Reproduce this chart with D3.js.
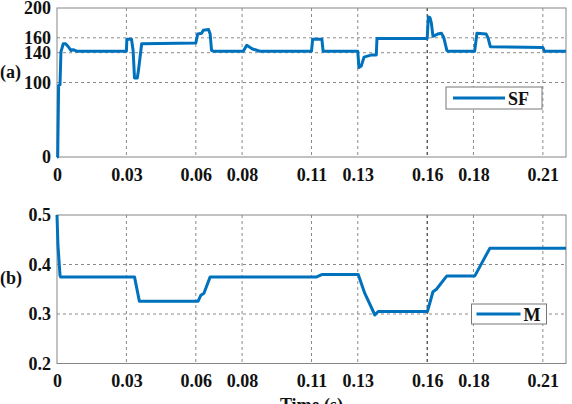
<!DOCTYPE html>
<html><head><meta charset="utf-8">
<script src="https://cdn.jsdelivr.net/npm/d3@7"></script>
<style>body{margin:0;background:#fff}svg{display:block}</style>
</head><body>
<svg id="c" width="572" height="404"></svg>
<script>
const xTicks=[0,0.03,0.06,0.08,0.11,0.13,0.16,0.18,0.21];
const xTickLabels=["0","0.03","0.06","0.08","0.11","0.13","0.16","0.18","0.21"];
const sfTicks=[0,100,140,160,200];
const mTicks=[0.2,0.3,0.4,0.5];
const sfTime=[0,0.0003,0.0007,0.0013,0.0017,0.0027,0.0037,0.0049,0.006,0.007,0.0085,0.0300,0.0302,0.0322,0.0329,0.0335,0.0347,0.0352,0.0366,0.0600,0.0608,0.0625,0.0632,0.0655,0.0662,0.0668,0.0675,0.0805,0.0820,0.0845,0.0877,0.1100,0.1105,0.1145,0.1150,0.1300,0.1305,0.1315,0.1327,0.1360,0.1380,0.1383,0.1600,0.1605,0.1612,0.1618,0.1625,0.1645,0.1662,0.1672,0.1685,0.1690,0.1805,0.1815,0.1855,0.1863,0.1873,0.2100,0.2107,0.2200];
const sfValue=[0,0,96,97,141,152,152,148,143,144,142,142,158,158,143,106,106,116,152,153,165,166,170,171,165,143,142,142,150,145,142,142,158,158,142,142,120,122,134,137,137,159,159,188,187,180,162,165,166,160,143,142,142,166,165,160,148,147,142,142];
const mTime=[0,0.0004,0.0013,0.0015,0.0335,0.0356,0.0610,0.0622,0.0635,0.0662,0.1122,0.1147,0.1302,0.1330,0.1374,0.1388,0.1601,0.1625,0.1640,0.1685,0.1806,0.1871,0.2200];
const mValue=[0.5,0.44,0.378,0.375,0.375,0.326,0.326,0.338,0.342,0.375,0.375,0.380,0.380,0.342,0.298,0.305,0.305,0.345,0.350,0.377,0.377,0.433,0.433];

const svg=d3.select("#c");
const FONT="'Liberation Serif','Times New Roman',serif";
const BLUE="#0072BD";
const x=d3.scaleLinear().domain([0,0.22]).range([57,566]);

function panel(yDomain,yRange,yTicks,yFmt,times,vals,legendName,lg,tag,tagY){
  const y=d3.scaleLinear().domain(yDomain).range(yRange);
  const g=svg.append("g");
  // grid
  g.selectAll(".vg").data(xTicks.filter(t=>t>0)).enter().append("line")
    .attr("x1",d=>x(d)).attr("x2",d=>x(d)).attr("y1",yRange[1]).attr("y2",yRange[0])
    .attr("stroke",d=>d===0.16?"#111":"#8a8a8a").attr("stroke-width",1).attr("stroke-dasharray","3,3");
  g.selectAll(".hg").data(yTicks.filter(t=>t>yDomain[0]&&t<yDomain[1])).enter().append("line")
    .attr("x1",x.range()[0]).attr("x2",x.range()[1]).attr("y1",d=>y(d)).attr("y2",d=>y(d))
    .attr("stroke","#8a8a8a").attr("stroke-width",1).attr("stroke-dasharray","3,3");
  // frame
  g.append("rect").attr("x",x.range()[0]).attr("y",yRange[1]).attr("width",x.range()[1]-x.range()[0])
    .attr("height",yRange[0]-yRange[1]).attr("fill","none").attr("stroke","#858585").attr("stroke-width",1);
  // axes
  const xa=g.append("g").attr("transform",`translate(0,${yRange[0]})`)
    .call(d3.axisBottom(x).tickValues(xTicks).tickFormat((d,i)=>xTickLabels[i]).tickSize(0).tickPadding(11));
  const ya=g.append("g").attr("transform",`translate(${x.range()[0]},0)`)
    .call(d3.axisLeft(y).tickValues(yTicks).tickFormat(yFmt).tickSize(0).tickPadding(6));
  [xa,ya].forEach(a=>{a.select(".domain").remove();a.selectAll("text").attr("font-family",FONT).attr("font-weight","bold").attr("font-size",18).attr("fill","#111");});
  // line
  const pts=times.map((t,i)=>[t,vals[i]]);
  g.append("path").datum(pts).attr("fill","none").attr("stroke",BLUE).attr("stroke-width",3).attr("stroke-linejoin","round")
    .attr("d",d3.line().x(d=>x(d[0])).y(d=>y(d[1])));
  // legend
  g.append("rect").attr("x",lg.x).attr("y",lg.y).attr("width",lg.w).attr("height",lg.h).attr("fill","#fff").attr("stroke","#777").attr("stroke-width",1);
  g.append("line").attr("x1",lg.x+lg.l1).attr("x2",lg.x+lg.l2).attr("y1",lg.y+lg.h/2).attr("y2",lg.y+lg.h/2).attr("stroke",BLUE).attr("stroke-width",3);
  g.append("text").attr("x",lg.x+lg.l2+3).attr("y",lg.y+lg.h/2+6.5).text(legendName)
    .attr("font-family",FONT).attr("font-weight","bold").attr("font-size",18).attr("fill","#111");
  svg.append("text").attr("x",0).attr("y",tagY).text(tag).attr("font-family",FONT).attr("font-weight","bold").attr("font-size",18).attr("fill","#111");
}
panel([0,200],[157,8],sfTicks,d3.format("d"),sfTime,sfValue,"SF",{x:446,y:87,w:96,h:22,l1:7,l2:59},"(a)",78);
panel([0.2,0.5],[363.5,215],mTicks,d3.format(".1f"),mTime,mValue,"M",{x:471.5,y:304,w:75,h:20,l1:5,l2:49},"(b)",284);
svg.append("text").attr("x",311.5).attr("y",411).attr("text-anchor","middle").text("Time (s)")
  .attr("font-family",FONT).attr("font-weight","bold").attr("font-size",18).attr("fill","#111");
</script>
</body></html>
